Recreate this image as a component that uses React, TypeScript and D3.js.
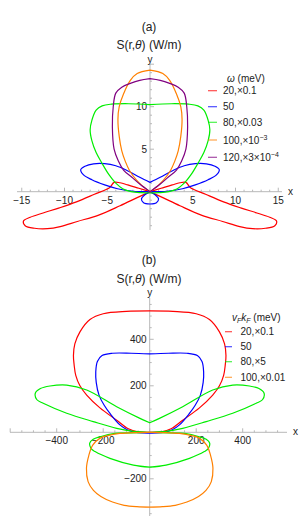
import React from "react";
import * as d3 from "d3";

// panel (a): right halves (x >= 0) of each curve, in plot units
const aRedLobe = [[0, 0], [1.3, 0.4], [2.6, 0.8], [3.5, 1.05], [4.2, 1.1], [4.7, 0.5], [6.5, -0.3], [8.6, -1.2], [10.6, -1.9], [12.5, -2.5], [14.0, -3.0], [14.8, -3.45], [14.6, -4.0], [13.5, -4.3], [12.0, -4.35], [10.5, -4.1], [8.5, -3.5], [6.0, -2.75], [3.5, -1.65], [1.5, -0.7], [0, 0]];
const aBlue = [[0, 1.1], [1.2, 1.7], [2.7, 2.5], [4.0, 3.05], [5.3, 3.3], [6.6, 3.28], [7.6, 3.0], [8.1, 2.6], [7.8, 2.0], [6.8, 1.4], [5.3, 0.8], [3.8, 0.35], [2.2, 0.08], [1.0, 0.0], [0, 0], [0.6, -0.35], [1.0, -0.85], [0.75, -1.3], [0, -1.45]];
const aGreen = [[0, 10.25], [2.5, 10.35], [4.5, 10.3], [5.6, 10.1], [6.3, 9.6], [6.8, 8.4], [7.0, 7.3], [6.8, 6.0], [6.3, 4.6], [5.7, 3.5], [4.8, 2.0], [4.0, 1.0], [3.2, 0.35], [2.2, 0.0], [1.0, -0.12], [0, -0.15]];
const aOrange = [[0, 14.3], [1.5, 13.9], [2.3, 13.1], [3.1, 11.5], [3.6, 10], [3.75, 8.5], [3.6, 6.5], [3.3, 4.8], [2.9, 3.6], [2.4, 2.5], [1.6, 1.4], [0.8, 0.6], [0, 0]];
const aPurple = [[0, 13.3], [1.2, 13.1], [2.3, 12.75], [3.3, 12.3], [4.0, 11.6], [4.3, 10], [4.4, 7.6], [4.2, 5.0], [3.7, 3.6], [3.1, 2.55], [2.0, 1.6], [1.2, 0.9], [0, 0]];

// panel (b)
const bRed = [[0, 522], [100, 520], [200, 510], [257, 485], [300, 432], [322, 380], [328, 330], [325, 290], [318, 245], [300, 200], [271, 160], [214, 105], [142, 52], [92, 15], [50, 2], [0, 0]];
const bBlue = [[0, 337], [80, 340], [160, 340], [205, 330], [225, 305], [232, 260], [230, 215], [218, 160], [195, 115], [170, 80], [128, 32], [95, 10], [50, -2], [0, -4]];
const bGreen = [[0, 41], [42, 60], [142, 110], [271, 182], [357, 203], [429, 199], [470, 188], [492, 168], [485, 140], [458, 125], [357, 82], [243, 46], [142, 17], [70, 4], [0, 0], [150, -5], [213, -19], [243, -30], [258, -47], [252, -70], [235, -83], [171, -112], [70, -141], [0, -150]];
const bOrange = [[0, 0], [70, -1], [128, -5], [180, -14], [213, -25], [245, -55], [262, -100], [272, -155], [265, -212], [242, -250], [210, -276], [160, -300], [110, -314], [55, -320], [0, -322]];

const aTicksX = [-15, -10, -5, 5, 10, 15];
const aTicksY = [5, 10];
const bTicksX = [-400, -200, 200, 400];
const bTicksY = [-200, 200, 400];

const aLegend = [
  { color: "#ff0000", text: "20,×0.1", sup: "" },
  { color: "#0000ff", text: "50", sup: "" },
  { color: "#00ee00", text: "80,×0.03", sup: "" },
  { color: "#ff8000", text: "100,×10", sup: "−3" },
  { color: "#800080", text: "120,×3×10", sup: "−4" },
];
const bLegend = [
  { color: "#ff0000", text: "20,×0.1" },
  { color: "#0000ff", text: "50" },
  { color: "#00ee00", text: "80,×5" },
  { color: "#ff8000", text: "100,×0.01" },
];

const mirror = (half) => half.concat(half.slice().reverse().map(([x, y]) => [-x, y]));
const flip = (pts) => pts.map(([x, y]) => [-x, y]);

const font = "Liberation Sans, Arial, sans-serif";
const axisColor = "#b8b8b8";
const textColor = "#222";

function Axes({ x, y, xMin, xMax, yMin, yMax, major, minor, ticksX, ticksY, yLabelY }) {
  const x0 = x(0), y0 = y(0);
  const minorX = d3.range(Math.ceil(x.invert(xMin) / minor) * minor, x.invert(xMax), minor);
  const minorY = d3.range(Math.ceil(y.invert(yMax) / minor) * minor, y.invert(yMin), minor);
  return (
    <g>
      <line x1={xMin} x2={xMax} y1={y0} y2={y0} stroke={axisColor} />
      <line x1={x0} x2={x0} y1={yMin} y2={yMax} stroke={axisColor} />
      {minorX.map((v) => (
        <line key={"mx" + v} x1={x(v)} x2={x(v)} y1={y0} y2={y0 - (v % major === 0 ? 4 : 2)} stroke={axisColor} />
      ))}
      {minorY.map((v) => (
        <line key={"my" + v} x1={x0} x2={x0 + (v % major === 0 ? 4 : 2)} y1={y(v)} y2={y(v)} stroke={axisColor} />
      ))}
      {ticksX.map((v) => (
        <text key={"tx" + v} x={x(v)} y={y0 + 12} textAnchor="middle" fontSize={10} fontFamily={font} fill={textColor}>
          {v < 0 ? "−" + Math.abs(v) : v}
        </text>
      ))}
      {ticksY.map((v) => (
        <text key={"ty" + v} x={x0 - 3} y={y(v) + 3.5} textAnchor="end" fontSize={10} fontFamily={font} fill={textColor}>
          {v < 0 ? "−" + Math.abs(v) : v}
        </text>
      ))}
      <text x={xMax + 6} y={y0 + 3} fontSize={10} fontFamily={font} fill={textColor}>x</text>
      <text x={x0} y={yLabelY} textAnchor="middle" fontSize={10} fontFamily={font} fill={textColor}>y</text>
    </g>
  );
}

export default function App() {
  const xA = d3.scaleLinear().domain([-15, 15]).range([150 - 15 * 8.55, 150 + 15 * 8.55]);
  const yA = d3.scaleLinear().domain([0, 10]).range([191.7, 106.7]);
  const xB = d3.scaleLinear().domain([-400, 400]).range([149.7 - 93, 149.7 + 93]);
  const yB = d3.scaleLinear().domain([0, 400]).range([432.3, 339.3]);

  const openA = d3.line().x((d) => xA(d[0])).y((d) => yA(d[1])).curve(d3.curveCatmullRom.alpha(0.5));
  const closedA = d3.line().x((d) => xA(d[0])).y((d) => yA(d[1])).curve(d3.curveCatmullRomClosed.alpha(0.5));
  const closedB = d3.line().x((d) => xB(d[0])).y((d) => yB(d[1])).curve(d3.curveCatmullRomClosed.alpha(0.5));

  const sw = 1.2;
  return (
    <svg width={304} height={516} style={{ position: "absolute", left: 0, top: 0, background: "#fff" }}>
      {/* panel (a) */}
      <text x={149} y={31} textAnchor="middle" fontSize={12} fontFamily={font} fill={textColor}>(a)</text>
      <text x={149} y={49} textAnchor="middle" fontSize={12} fontFamily={font} fill={textColor}>
        S(r,<tspan fontStyle="italic">θ</tspan>) (W/m)
      </text>
      <Axes x={xA} y={yA} xMin={17} xMax={282} yMin={64} yMax={230} major={5} minor={1}
        ticksX={aTicksX} ticksY={aTicksY} yLabelY={63} />
      <g fill="none" strokeWidth={sw}>
        <path d={openA(aRedLobe)} stroke="#ff0000" />
        <path d={openA(flip(aRedLobe))} stroke="#ff0000" />
        <path d={closedA(mirror(aBlue))} stroke="#0000ff" />
        <path d={closedA(mirror(aGreen))} stroke="#00ee00" />
        <path d={closedA(mirror(aOrange))} stroke="#ff8000" />
        <path d={closedA(mirror(aPurple))} stroke="#800080" />
      </g>
      <text x={227} y={82} fontSize={10} fontFamily={font} fill={textColor}>
        <tspan fontStyle="italic">ω</tspan> (meV)
      </text>
      {aLegend.map((e, i) => {
        const cy = [90.7, 106.7, 122.3, 140, 157.3][i];
        return (
          <g key={e.text}>
            <line x1={208} x2={217} y1={cy} y2={cy} stroke={e.color} strokeWidth={1.2} opacity={0.7} />
            <text x={223} y={cy + 3.5} fontSize={10} fontFamily={font} fill={textColor}>
              {e.text}
              {e.sup && <tspan dy={-4} fontSize={7}>{e.sup}</tspan>}
            </text>
          </g>
        );
      })}

      {/* panel (b) */}
      <text x={149} y={264} textAnchor="middle" fontSize={12} fontFamily={font} fill={textColor}>(b)</text>
      <text x={149} y={283} textAnchor="middle" fontSize={12} fontFamily={font} fill={textColor}>
        S(r,<tspan fontStyle="italic">θ</tspan>) (W/m)
      </text>
      <Axes x={xB} y={yB} xMin={10} xMax={287} yMin={298} yMax={516} major={200} minor={50}
        ticksX={bTicksX} ticksY={bTicksY} yLabelY={296} />
      <g fill="none" strokeWidth={sw}>
        <path d={closedB(mirror(bRed))} stroke="#ff0000" />
        <path d={closedB(mirror(bBlue))} stroke="#0000ff" />
        <path d={closedB(mirror(bGreen))} stroke="#00ee00" />
        <path d={closedB(mirror(bOrange))} stroke="#ff8000" />
      </g>
      <text x={232} y={320.5} fontSize={10} fontFamily={font} fill={textColor}>
        <tspan fontStyle="italic">v</tspan><tspan fontSize={7} dy={2} fontStyle="italic">F</tspan>
        <tspan dy={-2} fontStyle="italic">k</tspan><tspan fontSize={7} dy={2} fontStyle="italic">F</tspan>
        <tspan dy={-2}> (meV)</tspan>
      </text>
      {bLegend.map((e, i) => {
        const cy = [331.7, 346.7, 361.7, 377.3][i];
        return (
          <g key={e.text}>
            <line x1={225} x2={232} y1={cy} y2={cy} stroke={e.color} strokeWidth={1.2} opacity={0.7} />
            <text x={240.5} y={cy + 3.5} fontSize={10} fontFamily={font} fill={textColor}>{e.text}</text>
          </g>
        );
      })}
    </svg>
  );
}
